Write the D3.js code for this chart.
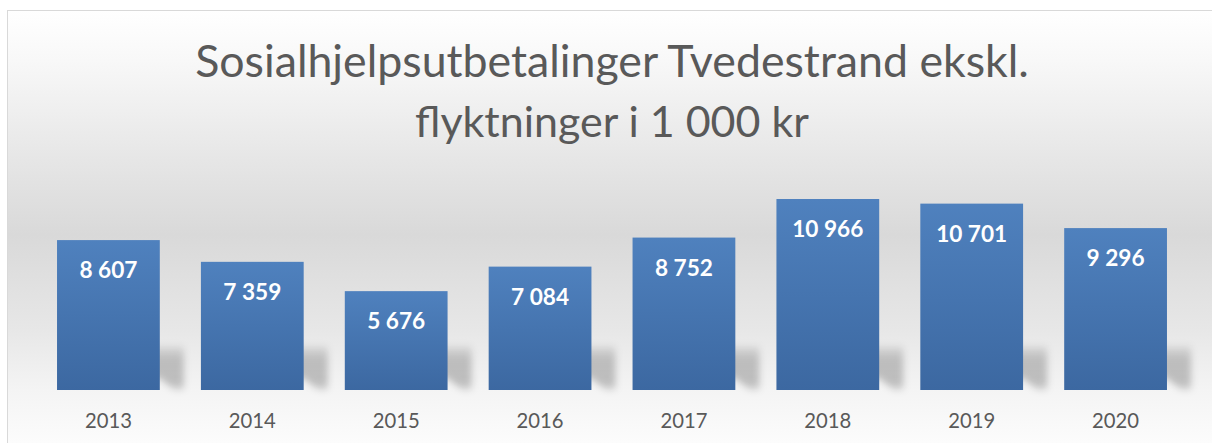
<!DOCTYPE html>
<html>
<head>
<meta charset="utf-8">
<script src="https://cdn.jsdelivr.net/npm/d3@7"></script>
<style>
  html, body { margin: 0; padding: 0; background: #ffffff; }
  svg { display: block; }
</style>
</head>
<body>
<svg id="chart"></svg>
<script>
// data
var years = ["2013", "2014", "2015", "2016", "2017", "2018", "2019", "2020"];
var values = [8607, 7359, 5676, 7084, 8752, 10966, 10701, 9296];
var titleLines = ["Sosialhjelpsutbetalinger Tvedestrand ekskl.", "flyktninger i 1 000 kr"];

// page size
var width = 1212;
var height = 443;
var baseY = 390;

var fmt = d3.formatLocale({decimal: ",", thousands: " ", grouping: [3], currency: ["", ""]}).format(",");

var svg = d3.select("#chart")
	.attr("width", width)
	.attr("height", height)
	.attr("viewBox", [0, 0, width, height]);

var defs = svg.append("defs");

// chart area background: white at top, grey in the middle, light at bottom
var bg = defs.append("linearGradient")
	.attr("id", "bgGrad")
	.attr("gradientUnits", "userSpaceOnUse")
	.attr("x1", 0).attr("y1", 10).attr("x2", 0).attr("y2", height);
[[10, "#ffffff"], [60, "#f8f8f8"], [160, "#e6e6e6"], [235, "#d9d9d9"], [330, "#e7e7e7"], [390, "#f4f4f4"], [443, "#fcfcfc"]]
	.forEach(function(s){
		bg.append("stop").attr("offset", (s[0] - 10) / (height - 10)).attr("stop-color", s[1]);
	});

// bar fill
var barGrad = defs.append("linearGradient")
	.attr("id", "barGrad")
	.attr("x1", 0).attr("y1", 0).attr("x2", 0).attr("y2", 1);
barGrad.append("stop").attr("offset", 0).attr("stop-color", "#4f81be");
barGrad.append("stop").attr("offset", 1).attr("stop-color", "#3c68a1");

// shadow fill + blur
var shGrad = defs.append("linearGradient")
	.attr("id", "shGrad")
	.attr("gradientUnits", "userSpaceOnUse")
	.attr("x1", 0).attr("y1", 344).attr("x2", 0).attr("y2", 392);
shGrad.append("stop").attr("offset", 0).attr("stop-color", "#000").attr("stop-opacity", 0.04);
shGrad.append("stop").attr("offset", 0.3).attr("stop-color", "#000").attr("stop-opacity", 0.2);
shGrad.append("stop").attr("offset", 0.8).attr("stop-color", "#000").attr("stop-opacity", 0.22);
shGrad.append("stop").attr("offset", 1).attr("stop-color", "#000").attr("stop-opacity", 0.08);
defs.append("filter")
	.attr("id", "blur")
	.attr("x", "-20%").attr("y", "-50%").attr("width", "140%").attr("height", "200%")
	.append("feGaussianBlur").attr("stdDeviation", 3.5);

// frame
svg.append("rect")
	.attr("x", 7.5).attr("y", 10.5)
	.attr("width", width).attr("height", height)
	.attr("fill", "url(#bgGrad)")
	.attr("stroke", "#d9d9d9")
	.attr("stroke-width", 1);

// scales
var xScale = d3.scaleBand()
	.domain(years)
	.range([36.6, 1187.4])
	.paddingInner(0.2857)
	.paddingOuter(0.142);

var yScale = d3.scaleLinear()
	.domain([0, 12000])
	.range([baseY, 181]);

var data = years.map(function(y, i){ return {year: y, value: values[i]}; });

// shrink/grow font so text matches the width seen in the picture
function fitWidth(sel, target){
	sel.each(function(){
		var fs = parseFloat(d3.select(this).attr("font-size"));
		var w = this.getComputedTextLength();
		if (w > 0) d3.select(this).attr("font-size", (fs * target / w).toFixed(2));
	});
}

// title
var title = svg.append("g").attr("id", "title");
title.selectAll("text")
	.data(titleLines)
	.enter()
	.append("text")
	.attr("x", 612)
	.attr("y", function(d, i){ return i == 0 ? 77 : 137; })
	.attr("text-anchor", "middle")
	.attr("font-family", "Lato, 'Open Sans', sans-serif")
	.attr("font-size", 40)
	.attr("fill", "#595959")
	.text(function(d){ return d; });
fitWidth(title.select("text:nth-child(1)"), 834);
fitWidth(title.select("text:nth-child(2)"), 394);

// shadows behind bars (perspective, up-right)
var bw = xScale.bandwidth();
svg.append("g")
	.attr("id", "shadows")
	.attr("filter", "url(#blur)")
	.selectAll("polygon")
	.data(data)
	.enter()
	.append("polygon")
	.attr("fill", "url(#shGrad)")
	.attr("points", function(d){
		var x0 = xScale(d.year), x1 = x0 + bw;
		return [[x0 + 10, 346], [x1 + 24, 346], [x1 + 24, 390], [x1 + 14, 390], [x1, 378], [x0 + 10, 378]].join(" ");
	});

// bars
svg.append("g")
	.attr("id", "bars")
	.selectAll("rect")
	.data(data)
	.enter()
	.append("rect")
	.attr("x", function(d){ return xScale(d.year); })
	.attr("y", function(d){ return yScale(d.value); })
	.attr("width", bw)
	.attr("height", function(d){ return baseY - yScale(d.value); })
	.attr("fill", "url(#barGrad)");

// value labels inside bars
var labels = svg.append("g")
	.attr("id", "labels")
	.selectAll("text")
	.data(data)
	.enter()
	.append("text")
	.attr("x", function(d){ return xScale(d.year) + bw / 2; })
	.attr("y", function(d){ return yScale(d.value) + 38; })
	.attr("text-anchor", "middle")
	.attr("font-family", "Lato, 'Open Sans', sans-serif")
	.attr("font-weight", "bold")
	.attr("font-size", 22)
	.attr("fill", "#ffffff")
	.text(function(d){ return fmt(d.value); });
// same size for all, taken from "5 676" (58px wide)
var ref = labels.filter(function(d){ return d.year == "2015"; }).node();
var refSize = 22 * 58 / ref.getComputedTextLength();
labels.attr("font-size", refSize.toFixed(2));

// x axis
var xAxis = d3.axisBottom(xScale).tickSize(0);
var gx = svg.append("g")
	.attr("id", "xAxis")
	.attr("transform", "translate(0," + baseY + ")")
	.call(xAxis);
gx.select(".domain").remove();
var ticks = gx.selectAll("text")
	.attr("y", 38)
	.attr("dy", 0)
	.attr("font-family", "Lato, 'Open Sans', sans-serif")
	.attr("font-size", 20)
	.attr("fill", "#595959");
var tw = ticks.node().getComputedTextLength();
ticks.attr("font-size", (20 * 47 / tw).toFixed(2));
</script>
</body>
</html>
